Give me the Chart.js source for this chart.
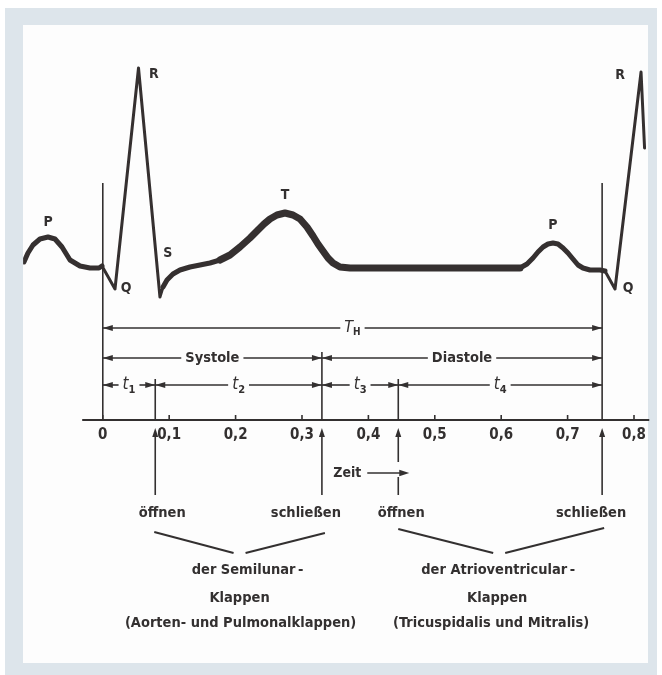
<!DOCTYPE html>
<html><head><meta charset="utf-8">
<script src="https://cdn.jsdelivr.net/npm/chart.js@4.4.1/dist/chart.umd.min.js"></script>
<style>html,body{margin:0;padding:0;background:#fff;}canvas{display:block;}</style>
</head><body>
<canvas id="c" width="662" height="675"></canvas>
<script>
const FONT = '"DejaVu Sans Condensed","Liberation Sans Narrow","Roboto Condensed",sans-serif';
const INK = '#333030';

// ECG trace: time (s) and amplitude (relative, R = 1)
const times = [-0.1187,-0.1127,-0.1051,-0.0946,-0.0825,-0.072,-0.0614,-0.0494,-0.0343,-0.0193,-0.0057,-0.0012,0.0184,0.0538,0.0861,0.0907,0.0967,0.1057,0.1163,0.1313,0.1464,0.1614,0.1765,0.1916,0.2066,0.2217,0.2322,0.2428,0.2518,0.2623,0.2744,0.2864,0.297,0.3075,0.3166,0.3241,0.3316,0.3392,0.3467,0.3572,0.3723,0.6283,0.6389,0.6479,0.6554,0.663,0.6705,0.678,0.6855,0.6931,0.7006,0.7081,0.7157,0.7232,0.7337,0.7488,0.7563,0.7714,0.8106,0.8159];
const voltages = [0.03,0.075,0.115,0.145,0.155,0.145,0.105,0.04,0.01,0,0,0.01,-0.105,1.0,-0.145,-0.095,-0.06,-0.03,-0.01,0.005,0.015,0.025,0.04,0.065,0.105,0.15,0.185,0.22,0.245,0.265,0.275,0.265,0.245,0.205,0.16,0.12,0.085,0.05,0.025,0.005,0,0,0.02,0.05,0.08,0.105,0.12,0.125,0.12,0.1,0.075,0.045,0.015,0,-0.01,-0.01,-0.015,-0.105,0.98,0.6];

const tickValues = [0,0.1,0.2,0.3,0.4,0.5,0.6,0.7,0.8];
const tickLabels = ['0','0,1','0,2','0,3','0,4','0,5','0,6','0,7','0,8'];

const waveNames  = ['P','Q','R','S','T','P','Q','R'];
const waveTimes  = [-0.0825,0.035,0.077,0.098,0.2744,0.678,0.791,0.779];
const waveValues = [0.23,-0.1,0.97,0.075,0.365,0.215,-0.1,0.965];

// phase boundaries (s): Q, open SL, close SL, open AV, close AV / next Q
const phaseTimes = [0,0.079,0.33,0.445,0.752];
const intervalNames = ['1','2','3','4'];
const valveEvents = ['öffnen','schließen','öffnen','schließen'];
const valveGroupA = ['der Semilunar\u2009-','Klappen','(Aorten- und Pulmonalklappen)'];
const valveGroupB = ['der Atrioventricular\u2009-','Klappen','(Tricuspidalis und Mitralis)'];

function arrowHead(ctx, x, y, dx, dy, len, hw){
  const px=-dy, py=dx;
  ctx.beginPath();
  ctx.moveTo(x,y);
  ctx.lineTo(x-dx*len+px*hw, y-dy*len+py*hw);
  ctx.lineTo(x-dx*len-px*hw, y-dy*len-py*hw);
  ctx.closePath(); ctx.fill();
}
function line(ctx,x1,y1,x2,y2){ctx.beginPath();ctx.moveTo(x1,y1);ctx.lineTo(x2,y2);ctx.stroke();}

function subLabel(ctx, main, sub, cx, cy, size){
  ctx.font = 'italic ' + size + 'px ' + FONT;
  const w1 = ctx.measureText(main).width;
  ctx.font = 'bold ' + Math.round(size*0.62) + 'px ' + FONT;
  const w2 = ctx.measureText(sub).width;
  const w = w1 + w2;
  ctx.textBaseline='middle'; ctx.textAlign='left';
  ctx.font = 'italic ' + size + 'px ' + FONT;
  ctx.fillText(main, cx - w/2, cy);
  ctx.font = 'bold ' + Math.round(size*0.62) + 'px ' + FONT;
  ctx.fillText(sub, cx - w/2 + w1, cy + size*0.3);
  return w;
}

function dim(ctx, x1, x2, y, labelFn){
  const mid=(x1+x2)/2;
  const w = labelFn(mid, y);
  const g1 = mid - w/2 - 4, g2 = mid + w/2 + 4;
  ctx.lineWidth=1.6;
  line(ctx, x1, y, g1, y);
  line(ctx, g2, y, x2, y);
  arrowHead(ctx, x1, y, -1, 0, 10, 3);
  arrowHead(ctx, x2, y, 1, 0, 10, 3);
}

const decor = {
  id:'decor',
  beforeDraw(chart){
    const ctx=chart.ctx; ctx.save();
    ctx.fillStyle='#ffffff'; ctx.fillRect(0,0,662,675);
    ctx.fillStyle='#dde5eb'; ctx.fillRect(5,8,652,667);
    ctx.fillStyle='#fdfdfd'; ctx.fillRect(23,25,625,638);
    ctx.restore();
  },
  beforeDatasetsDraw(chart){
    const ctx=chart.ctx, xs=chart.scales.x, ys=chart.scales.y;
    const axisY=chart.chartArea.bottom;
    ctx.save(); ctx.strokeStyle=INK; ctx.lineWidth=1.6;
    [phaseTimes[0], phaseTimes[4]].forEach(t=>{
      const x=xs.getPixelForValue(t);
      line(ctx, x, ys.getPixelForValue(0.425), x, axisY);
    });
    ctx.restore();
  },
  afterDraw(chart){
    const ctx=chart.ctx, xs=chart.scales.x, ys=chart.scales.y;
    const X=t=>xs.getPixelForValue(t);
    const axisY=chart.chartArea.bottom;
    ctx.save();
    ctx.strokeStyle=INK; ctx.fillStyle=INK;
    // axis line + upward tick marks
    ctx.lineWidth=2.2;
    line(ctx, X(-0.031), axisY, X(0.823), axisY);
    ctx.lineWidth=1.6;
    tickValues.forEach(v=>line(ctx, X(v), axisY-5, X(v), axisY));
    // wave labels
    ctx.font='bold 14px '+FONT; ctx.textAlign='center'; ctx.textBaseline='middle';
    waveNames.forEach((n,i)=>ctx.fillText(n, X(waveTimes[i]), ys.getPixelForValue(waveValues[i])));
    // dimension rows
    const px = phaseTimes.map(X);
    const rowTH=axisY-92, rowSD=axisY-62, rowT=axisY-35;
    ctx.lineWidth=1.6;
    line(ctx, px[2], rowSD-6, px[2], axisY);
    line(ctx, px[1], rowT-6, px[1], axisY);
    line(ctx, px[3], rowT-6, px[3], axisY);
    dim(ctx, px[0], px[4], rowTH, (cx,cy)=>subLabel(ctx,'T','H',cx,cy,16));
    const txt=(s)=>(cx,cy)=>{ctx.font='bold 14.5px '+FONT;ctx.textAlign='center';ctx.textBaseline='middle';ctx.fillText(s,cx,cy);return ctx.measureText(s).width;};
    dim(ctx, px[0], px[2], rowSD, txt('Systole'));
    dim(ctx, px[2], px[4], rowSD, txt('Diastole'));
    for(let i=0;i<4;i++) dim(ctx, px[i], px[i+1], rowT, (cx,cy)=>subLabel(ctx,'t',intervalNames[i],cx,cy,17));
    // upward arrows below axis
    ctx.lineWidth=1.6;
    for(let i=1;i<=4;i++){
      const x=px[i];
      arrowHead(ctx, x, axisY+8, 0, -1, 9, 3);
      if(i===3){ line(ctx,x,axisY+16,x,axisY+42); line(ctx,x,axisY+57,x,axisY+75); }
      else line(ctx, x, axisY+16, x, axisY+75);
    }
    // Zeit arrow
    ctx.font='bold 14px '+FONT; ctx.textAlign='center'; ctx.textBaseline='middle';
    ctx.fillText('Zeit', px[3]-51, axisY+53);
    ctx.lineWidth=1.6;
    line(ctx, px[3]-31, axisY+53, px[3]+4, axisY+53);
    arrowHead(ctx, px[3]+11, axisY+53, 1, 0, 10, 3.2);
    // valve event words
    ctx.font='bold 14.5px '+FONT;
    const evOff=[7,-16,3,-11];
    valveEvents.forEach((s,i)=>ctx.fillText(s, px[i+1]+evOff[i], axisY+93));
    // V connectors
    const cA=(px[1]+px[2])/2, cB=(px[3]+px[4])/2;
    ctx.lineWidth=2;
    line(ctx, px[1]-1, axisY+112, cA-5, axisY+133);
    line(ctx, cA+7, axisY+133, px[2]+3, axisY+113);
    line(ctx, px[3], axisY+109, cB-7, axisY+133);
    line(ctx, cB+5, axisY+133, px[4]+2, axisY+108);
    // group texts
    const rows=[axisY+150, axisY+178, axisY+203];
    const offA=[9,1,2], offB=[-2,-3,-9];
    valveGroupA.forEach((s,i)=>ctx.fillText(s, cA+offA[i], rows[i]));
    valveGroupB.forEach((s,i)=>ctx.fillText(s, cB+offB[i], rows[i]));
    ctx.restore();
  }
};

const thick = new Set([11,12,13,14,56,57,58]);
new Chart(document.getElementById('c'), {
  type:'line',
  data:{datasets:[{
    data: times.map((t,i)=>({x:t, y:voltages[i]})),
    borderColor:'#353030', borderWidth:5, pointRadius:0, tension:0,
    borderCapStyle:'round', borderJoinStyle:'round', fill:false,
    segment:{ borderWidth: c => thick.has(c.p0DataIndex) ? 3 : (c.p0DataIndex>=22 && c.p0DataIndex<=40 ? 7 : 5) }
  }]},
  options:{
    responsive:false, animation:false, devicePixelRatio:1,
    layout:{padding:{left:23.1, right:11.4, top:25, bottom:0}},
    plugins:{legend:{display:false}, tooltip:{enabled:false}},
    scales:{
      x:{type:'linear', min:-0.12, max:0.825,
         afterBuildTicks: s => { s.ticks = tickValues.map(v=>({value:v})); },
         afterFit: s => { s.height = 255; },
         grid:{display:false, drawTicks:false}, border:{display:false},
         ticks:{padding:6, color:INK, font:{family:FONT, size:15, weight:'bold'},
                maxRotation:0, autoSkip:false,
                callback:(v)=>{const i=tickValues.findIndex(t=>Math.abs(t-v)<1e-9);return i>=0?tickLabels[i]:'';}}},
      y:{display:false, min:-0.76, max:1.215}
    }
  },
  plugins:[decor]
});
</script>
</body></html>
